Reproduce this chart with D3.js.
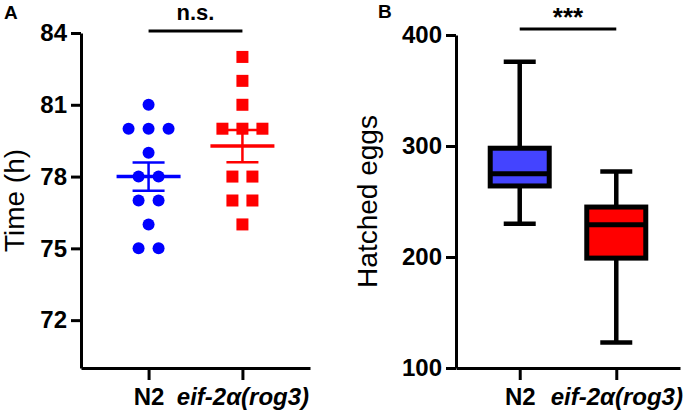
<!DOCTYPE html>
<html lang="en">
<head>
  <meta charset="UTF-8" />
  <title>Development time and hatched eggs</title>
  <script src="https://d3js.org/d3.v7.min.js"></script>
  <style>
    body {
      margin: 0;
      background: #fff;
    }
    svg {
      display: block;
      font-family: "Liberation Sans", Arial, sans-serif;
    }
  </style>
</head>
<body>
  <svg id="chart" width="685" height="417"></svg>

  <script>
    const strains = ["N2", "eif-2α(rog3)"];

    // panel A: time to adulthood (h), one value per animal
    const timeN2 = [81, 80, 80, 80, 79, 78, 78, 77, 77, 76, 75, 75];
    const timeEif = [83, 82, 81, 80, 80, 80, 78, 78, 77, 77, 76];
    const timeTicks = [72, 75, 78, 81, 84];

    // panel B: hatched eggs, box = quartiles, whiskers = min..max
    const eggsMin = [230, 123];
    const eggsQ1 = [264, 199];
    const eggsMedian = [275, 229];
    const eggsQ3 = [298, 245];
    const eggsMax = [376, 277];
    const eggsTicks = [100, 200, 300, 400];

    const blue = "#0000ff";
    const red = "#ff0000";
    const boxFills = ["#4444ff", "#ff0000"];

    const svg = d3.select("#chart");

    function styleAxis(g, size) {
      g.selectAll("path, line").attr("stroke", "#000").attr("stroke-width", 3);
      g.selectAll("text")
        .attr("fill", "#000")
        .attr("font-size", size)
        .attr("font-weight", "bold")
        .attr("font-family", "'Liberation Sans', Arial, sans-serif");
    }

    function drawAxes(x, y, ticks, title, titleX) {
      svg.append("g")
        .attr("transform", `translate(0,${y.range()[0]})`)
        .call(d3.axisBottom(x).tickSize(12).tickSizeOuter(0).tickPadding(8))
        .call(g => styleAxis(g, 24))
        .call(g => g.selectAll(".tick text")
          .attr("font-style", d => d === "N2" ? "normal" : "italic"));

      svg.append("g")
        .attr("transform", `translate(${x.range()[0]},0)`)
        .call(d3.axisLeft(y).tickValues(ticks).tickSize(10).tickSizeOuter(0).tickPadding(4))
        .call(g => styleAxis(g, 24));

      const mid = (y.range()[0] + y.range()[1]) / 2;
      svg.append("text")
        .attr("transform", `translate(${titleX},${mid}) rotate(-90)`)
        .attr("text-anchor", "middle")
        .attr("font-size", 28)
        .attr("fill", "#000")
        .text(title);
    }

    function drawSignif(x, label, lineY, textY, size) {
      svg.append("line")
        .attr("x1", x(strains[0]))
        .attr("x2", x(strains[1]))
        .attr("y1", lineY)
        .attr("y2", lineY)
        .attr("stroke", "#000")
        .attr("stroke-width", 3);
      svg.append("text")
        .attr("x", (x(strains[0]) + x(strains[1])) / 2)
        .attr("y", textY)
        .attr("text-anchor", "middle")
        .attr("font-size", size)
        .attr("font-weight", "bold")
        .text(label);
    }

    // ---------- panel A ----------
    const xA = d3.scalePoint().domain(strains).range([81, 310]).padding(0.72);
    const yA = d3.scaleLinear().domain([70, 84]).range([368, 33]);

    drawAxes(xA, yA, timeTicks, "Time (h)", 24);

    // spread identical values side by side, 20 px apart
    function spread(values) {
      const counts = d3.rollup(values, v => v.length, d => d);
      const seen = new Map();
      return values.map(v => {
        const n = counts.get(v);
        const i = seen.get(v) || 0;
        seen.set(v, i + 1);
        return { value: v, offset: (i - (n - 1) / 2) * 20 };
      });
    }

    const groupsA = [
      { strain: strains[0], values: timeN2, color: blue, shape: "circle" },
      { strain: strains[1], values: timeEif, color: red, shape: "square" }
    ];

    groupsA.forEach(grp => {
      const cx = xA(grp.strain);
      const pts = spread(grp.values);
      const g = svg.append("g");
      if (grp.shape === "circle") {
        g.selectAll("circle")
          .data(pts)
          .join("circle")
          .attr("cx", d => cx + d.offset)
          .attr("cy", d => yA(d.value))
          .attr("r", 6)
          .attr("fill", grp.color);
      } else {
        g.selectAll("rect")
          .data(pts)
          .join("rect")
          .attr("x", d => cx + d.offset - 6)
          .attr("y", d => yA(d.value) - 6)
          .attr("width", 12)
          .attr("height", 12)
          .attr("fill", grp.color);
      }

      const mean = d3.mean(grp.values);
      const sem = d3.deviation(grp.values) / Math.sqrt(grp.values.length);
      const lo = yA(mean - sem);
      const hi = yA(mean + sem);
      g.append("line")
        .attr("x1", cx).attr("x2", cx)
        .attr("y1", lo).attr("y2", hi)
        .attr("stroke", grp.color).attr("stroke-width", 2.5);
      [lo, hi].forEach(yy => {
        g.append("line")
          .attr("x1", cx - 16).attr("x2", cx + 16)
          .attr("y1", yy).attr("y2", yy)
          .attr("stroke", grp.color).attr("stroke-width", 2.5);
      });
      g.append("line")
        .attr("x1", cx - 32).attr("x2", cx + 32)
        .attr("y1", yA(mean)).attr("y2", yA(mean))
        .attr("stroke", grp.color).attr("stroke-width", 3.5);
    });

    drawSignif(xA, "n.s.", 31, 20, 22);

    svg.append("text")
      .attr("x", 4).attr("y", 19)
      .attr("font-size", 19).attr("font-weight", "bold")
      .text("A");

    // ---------- panel B ----------
    const xB = d3.scalePoint().domain(strains).range([456, 680]).padding(0.66);
    const yB = d3.scaleLinear().domain([100, 400]).range([368, 35]);

    drawAxes(xB, yB, eggsTicks, "Hatched eggs", 377);

    const boxW = 59;
    const capW = 32;
    const gB = svg.append("g");
    strains.forEach((s, i) => {
      const cx = xB(s);
      gB.append("line")
        .attr("x1", cx).attr("x2", cx)
        .attr("y1", yB(eggsMax[i])).attr("y2", yB(eggsMin[i]))
        .attr("stroke", "#000").attr("stroke-width", 4.5);
      [eggsMax[i], eggsMin[i]].forEach(v => {
        gB.append("line")
          .attr("x1", cx - capW / 2).attr("x2", cx + capW / 2)
          .attr("y1", yB(v)).attr("y2", yB(v))
          .attr("stroke", "#000").attr("stroke-width", 4.5);
      });
      gB.append("rect")
        .attr("x", cx - boxW / 2)
        .attr("y", yB(eggsQ3[i]))
        .attr("width", boxW)
        .attr("height", yB(eggsQ1[i]) - yB(eggsQ3[i]))
        .attr("fill", boxFills[i])
        .attr("stroke", "#000")
        .attr("stroke-width", 5);
      gB.append("line")
        .attr("x1", cx - boxW / 2).attr("x2", cx + boxW / 2)
        .attr("y1", yB(eggsMedian[i])).attr("y2", yB(eggsMedian[i]))
        .attr("stroke", "#000").attr("stroke-width", 5);
    });

    drawSignif(xB, "***", 29, 26, 26);

    svg.append("text")
      .attr("x", 378).attr("y", 18)
      .attr("font-size", 19).attr("font-weight", "bold")
      .text("B");
  </script>
</body>
</html>
